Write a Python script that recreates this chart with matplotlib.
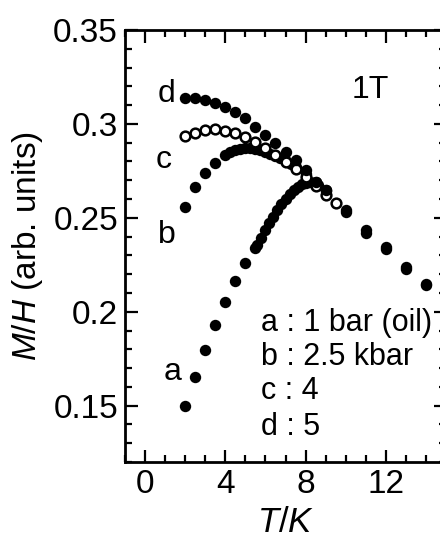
import matplotlib
matplotlib.use("Agg")
import matplotlib.pyplot as plt
from matplotlib.ticker import MultipleLocator, FuncFormatter

plt.rcParams['font.family'] = ['Liberation Sans', 'DejaVu Sans']
plt.rcParams['mathtext.fontset'] = 'custom'
plt.rcParams['mathtext.rm'] = 'Liberation Sans'
plt.rcParams['mathtext.it'] = 'Liberation Sans:italic'

# the data
# a : 1 bar (oil)
temp_a = [2.0, 2.5, 3.0, 3.5, 4.0, 4.5, 5.0, 5.5, 5.6, 5.8, 6.0, 6.2, 6.4, 6.6, 6.8,
          7.0, 7.2, 7.4, 7.6, 7.8, 8.0, 8.2, 8.4, 8.6, 9.0, 10.0, 11.0, 12.0, 13.0, 14.0]
mh_a = [0.1496, 0.1650, 0.1798, 0.1931, 0.2053, 0.2162, 0.2258, 0.2339, 0.2355, 0.2395,
        0.2434, 0.2470, 0.2505, 0.2540, 0.2572, 0.2600, 0.2625, 0.2647, 0.2665, 0.2680,
        0.2688, 0.2690, 0.2685, 0.2677, 0.2645, 0.2530, 0.2420, 0.2333, 0.2226, 0.2140]
# b : 2.5 kbar
temp_b = [2.0, 2.5, 3.0, 3.5, 4.0, 4.25, 4.5, 4.75, 5.0, 5.25, 5.5, 5.75, 6.0, 6.25,
          6.5, 6.75, 7.0, 7.25, 7.5, 8.0, 8.5, 9.0]
mh_b = [0.2560, 0.2663, 0.2741, 0.2794, 0.2835, 0.2850, 0.2862, 0.2868, 0.2871, 0.2870,
        0.2867, 0.2860, 0.2851, 0.2841, 0.2830, 0.2817, 0.2803, 0.2787, 0.2771, 0.2734,
        0.2691, 0.2649]
# c : 4 kbar
temp_c = [2.0, 2.5, 3.0, 3.5, 4.0, 4.5, 5.0, 5.5, 6.0, 6.5, 7.0, 7.5, 8.0, 8.5, 9.0, 9.5]
mh_c = [0.2933, 0.2954, 0.2968, 0.2972, 0.2964, 0.2951, 0.2929, 0.2906, 0.2871, 0.2835,
        0.2799, 0.2759, 0.2720, 0.2667, 0.2622, 0.2578]
# d : 5 kbar
temp_d = [2.0, 2.5, 3.0, 3.5, 4.0, 4.5, 5.0, 5.5, 6.0, 6.5, 7.0, 7.5, 8.0, 8.5, 9.0,
          10.0, 11.0, 12.0, 13.0, 14.0]
mh_d = [0.3137, 0.3137, 0.3128, 0.3113, 0.3092, 0.3065, 0.3030, 0.2986, 0.2941, 0.2897,
        0.2853, 0.2809, 0.2755, 0.2693, 0.2649, 0.2540, 0.2435, 0.2345, 0.2238, 0.2150]

legend_lines = ['a : 1 bar (oil)', 'b : 2.5 kbar', 'c : 4', 'd : 5']

fig = plt.figure(figsize=(4.4, 5.4), dpi=100)
ax = fig.add_axes([125 / 440, 78 / 540, 321 / 440, 432 / 540])

ms = 8.2
ax.plot(temp_a, mh_a, 'o', color='black', ms=ms, mew=0)
ax.plot(temp_b, mh_b, 'o', color='black', ms=ms, mew=0)
ax.plot(temp_c, mh_c, 'o', mfc='white', mec='black', ms=ms - 1.2, mew=1.8)
ax.plot(temp_d, mh_d, 'o', color='black', ms=ms, mew=0)

ax.set_xlim(-1, 15)
ax.set_ylim(0.12, 0.35)
ax.xaxis.set_major_locator(MultipleLocator(4))
ax.xaxis.set_minor_locator(MultipleLocator(1))
ax.yaxis.set_major_locator(MultipleLocator(0.05))
ax.yaxis.set_minor_locator(MultipleLocator(0.01))
ax.yaxis.set_major_formatter(FuncFormatter(lambda v, p: '%g' % round(v, 3)))

ax.tick_params(which='both', direction='in', top=True, right=True, width=1.6)
ax.tick_params(which='major', length=9, labelsize=24, pad=5)
ax.tick_params(which='minor', length=5)
for s in ax.spines.values():
    s.set_linewidth(2.0)

ax.set_xlabel(r'$T/K$', fontsize=25, labelpad=4)
ax.set_ylabel(r'$M/H$ (arb. units)', fontsize=24, labelpad=6)

# curve letters and field
ax.text(1.07, 0.3117, 'd', fontsize=23, ha='center', va='baseline')
ax.text(0.92, 0.2765, 'c', fontsize=23, ha='center', va='baseline')
ax.text(1.10, 0.2366, 'b', fontsize=23, ha='center', va='baseline')
ax.text(1.37, 0.1636, 'a', fontsize=23, ha='center', va='baseline')
ax.text(11.22, 0.3138, '1T', fontsize=23, ha='center', va='baseline')

leg_y = [0.1899, 0.1716, 0.1533, 0.1343]
for txt, yy in zip(legend_lines, leg_y):
    ax.text(5.77, yy, txt, fontsize=22, ha='left', va='baseline')

fig.savefig('out.png', dpi=100)
